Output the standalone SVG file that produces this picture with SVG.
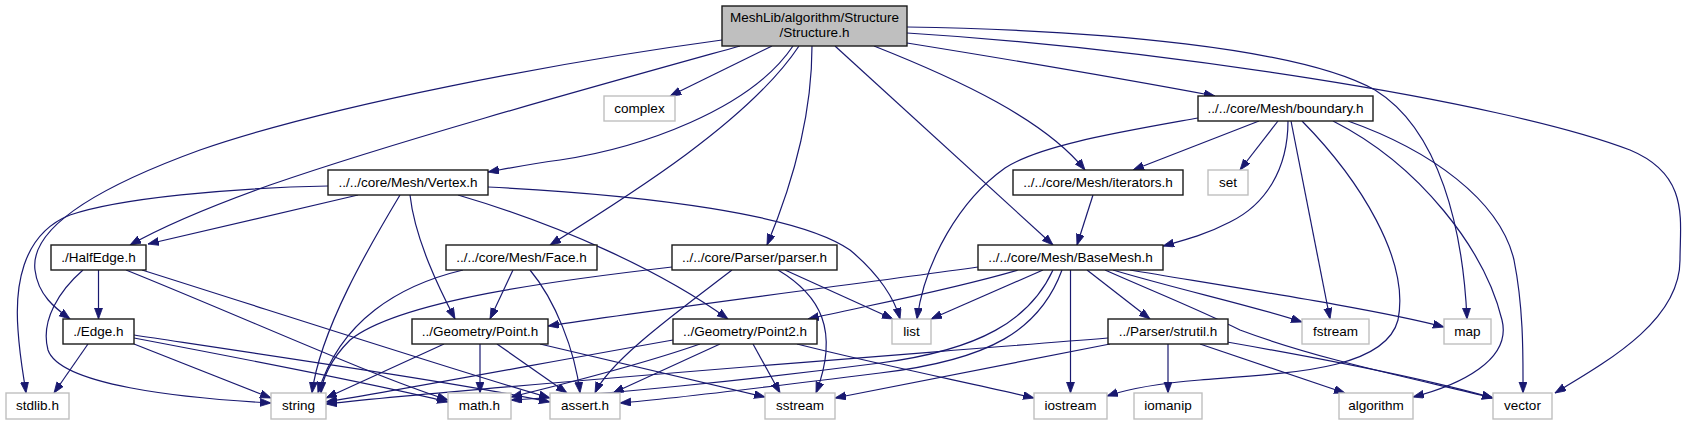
<svg xmlns="http://www.w3.org/2000/svg" width="1687" height="425" viewBox="0 0 1687 425">
<style>
.n rect{fill:#fff;stroke:#1a1a1a;stroke-width:1.4}
.x rect{fill:#fff;stroke:#bfbfbf;stroke-width:1.4}
.r rect{fill:#bfbfbf;stroke:#1a1a1a;stroke-width:1.4}
text{font-family:"Liberation Sans",Arial,sans-serif;font-size:13.5px;fill:#000;text-anchor:middle}
#edges path{fill:none;stroke:#191970;stroke-width:1.2;marker-end:url(#a)}
</style>
<defs>
<marker id="a" markerUnits="userSpaceOnUse" markerWidth="12" markerHeight="9" refX="11" refY="4" orient="auto">
<path d="M0,0 L11,4 L0,8 z" fill="#191970" stroke="#191970" stroke-width="0.8"/>
</marker>
</defs>
<rect width="1687" height="425" fill="#fff"/>
<g id="edges">
<path d="M722,40 C560,62 330,105 200,150 C90,190 30,230 35,270 C38,295 55,308 70,319"/>
<path d="M328,186 C230,188 120,198 70,215 C20,235 15,290 18,330 C20,360 24,378 26,393"/>
<path d="M740,46 C600,85 400,140 270,185 C200,210 160,228 130,245"/>
<path d="M358,195 L148,244"/>
<path d="M793,46 C750,110 640,148 560,160 C530,164 510,168 488,172"/>
<path d="M772,46 L670,96"/>
<path d="M799,46 C750,120 630,195 550,245"/>
<path d="M812,46 C812,120 790,190 767,245"/>
<path d="M835,46 L1053,245"/>
<path d="M874,46 C960,80 1045,120 1085,170"/>
<path d="M907,43 C1000,58 1140,82 1215,96"/>
<path d="M907,27 C1100,30 1300,48 1375,90 C1440,130 1463,230 1467,319"/>
<path d="M907,33 C1150,48 1500,100 1630,150 C1690,175 1680,220 1680,260 C1680,320 1610,360 1555,393"/>
<path d="M1259,121 L1133,170"/>
<path d="M1278,121 L1240,170"/>
<path d="M1198,118 C1120,132 1040,145 1005,168 C960,200 925,260 917,319"/>
<path d="M1288,121 C1288,170 1265,205 1230,222 C1205,235 1185,240 1163,246"/>
<path d="M1291,121 L1330,319"/>
<path d="M1302,121 C1360,180 1410,260 1398,320 C1385,370 1290,373 1200,380 C1150,384 1125,390 1107,396"/>
<path d="M1333,121 C1420,165 1485,250 1502,320 C1512,360 1460,385 1413,397"/>
<path d="M1348,121 C1430,150 1500,200 1514,260 C1524,310 1523,360 1523,393"/>
<path d="M1093,195 L1077,245"/>
<path d="M400,195 C370,245 320,330 312,393"/>
<path d="M410,195 C415,240 440,290 455,319"/>
<path d="M458,195 C560,225 660,270 728,319"/>
<path d="M488,187 C650,195 800,215 850,250 C880,275 895,300 900,319"/>
<path d="M98.5,270 L98.5,319"/>
<path d="M83,270 C60,290 40,320 48,350 C60,385 180,398 271,403"/>
<path d="M126,270 C250,320 370,375 448,400"/>
<path d="M142,270 C300,320 470,375 550,398"/>
<path d="M463,270 C400,285 340,320 318,393"/>
<path d="M513,270 L490,319"/>
<path d="M530,270 C555,300 575,350 580,393"/>
<path d="M672,267 C560,280 400,300 350,340 C330,360 322,380 321,393"/>
<path d="M732,270 C680,310 610,360 595,393"/>
<path d="M778,270 C820,295 840,330 816,393"/>
<path d="M785,270 L893,319"/>
<path d="M88,344 L54,393"/>
<path d="M134,344 L271,398"/>
<path d="M134,338 C250,360 380,385 448,402"/>
<path d="M134,335 C300,360 470,385 550,402"/>
<path d="M444,344 L326,398"/>
<path d="M480,344 L480,393"/>
<path d="M497,344 L567,393"/>
<path d="M540,344 L765,397"/>
<path d="M673,340 C560,360 400,390 326,402"/>
<path d="M700,344 C640,365 560,385 511,397"/>
<path d="M720,344 L613,393"/>
<path d="M753,344 L780,393"/>
<path d="M797,344 C880,365 980,385 1034,398"/>
<path d="M978,267 C850,285 650,310 548,326"/>
<path d="M1018,270 C950,290 870,305 808,319"/>
<path d="M1043,270 L931,319"/>
<path d="M1053,270 C1030,320 980,350 880,363 C750,380 600,395 511,400"/>
<path d="M1062,270 C1040,330 990,360 880,373 C760,388 680,398 620,403"/>
<path d="M1070.5,270 L1070.5,393"/>
<path d="M1087,270 L1150,319"/>
<path d="M1113,270 C1180,290 1250,305 1302,322"/>
<path d="M1130,270 C1250,290 1380,310 1444,327"/>
<path d="M1105,270 C1150,290 1200,310 1240,330 C1320,360 1420,380 1493,398"/>
<path d="M1108,338 C900,355 500,385 326,404"/>
<path d="M1110,344 L835,398"/>
<path d="M1168,344 L1168,393"/>
<path d="M1200,344 L1345,393"/>
<path d="M1227,342 C1330,360 1430,380 1493,398"/>
</g>
<g id="root" class="r"><rect x="722" y="6" width="185" height="40"/><text x="814.5" y="22">MeshLib/algorithm/Structure</text><text x="814.5" y="37">/Structure.h</text></g>
<g id="complex" class="x"><rect x="604" y="96" width="71" height="25"/><text x="639.5" y="113">complex</text></g>
<g id="boundary" class="n"><rect x="1198" y="96" width="175" height="25"/><text x="1285.5" y="113">../../core/Mesh/boundary.h</text></g>
<g id="vertex" class="n"><rect x="328" y="170" width="160" height="25"/><text x="408" y="187">../../core/Mesh/Vertex.h</text></g>
<g id="iterators" class="n"><rect x="1013" y="170" width="170" height="25"/><text x="1098" y="187">../../core/Mesh/iterators.h</text></g>
<g id="set" class="x"><rect x="1208" y="170" width="40" height="25"/><text x="1228" y="187">set</text></g>
<g id="halfedge" class="n"><rect x="51" y="245" width="95" height="25"/><text x="98.5" y="262">./HalfEdge.h</text></g>
<g id="face" class="n"><rect x="446" y="245" width="151" height="25"/><text x="521.5" y="262">../../core/Mesh/Face.h</text></g>
<g id="parser" class="n"><rect x="672" y="245" width="165" height="25"/><text x="754.5" y="262">../../core/Parser/parser.h</text></g>
<g id="basemesh" class="n"><rect x="978" y="245" width="185" height="25"/><text x="1070.5" y="262">../../core/Mesh/BaseMesh.h</text></g>
<g id="edge" class="n"><rect x="63" y="319" width="71" height="25"/><text x="98.5" y="336">./Edge.h</text></g>
<g id="point" class="n"><rect x="412" y="319" width="136" height="25"/><text x="480" y="336">../Geometry/Point.h</text></g>
<g id="point2" class="n"><rect x="673" y="319" width="144" height="25"/><text x="745" y="336">../Geometry/Point2.h</text></g>
<g id="list" class="x"><rect x="892" y="319" width="39" height="25"/><text x="911.5" y="336">list</text></g>
<g id="strutil" class="n"><rect x="1108" y="319" width="120" height="25"/><text x="1168" y="336">../Parser/strutil.h</text></g>
<g id="fstream" class="x"><rect x="1302" y="319" width="67" height="25"/><text x="1335.5" y="336">fstream</text></g>
<g id="map" class="x"><rect x="1444" y="319" width="47" height="25"/><text x="1467.5" y="336">map</text></g>
<g id="stdlib" class="x"><rect x="6" y="393" width="63" height="26"/><text x="37.5" y="410">stdlib.h</text></g>
<g id="string" class="x"><rect x="271" y="393" width="55" height="26"/><text x="298.5" y="410">string</text></g>
<g id="math" class="x"><rect x="448" y="393" width="63" height="26"/><text x="479.5" y="410">math.h</text></g>
<g id="assert" class="x"><rect x="550" y="393" width="70" height="26"/><text x="585" y="410">assert.h</text></g>
<g id="sstream" class="x"><rect x="765" y="393" width="70" height="26"/><text x="800" y="410">sstream</text></g>
<g id="iostream" class="x"><rect x="1034" y="393" width="73" height="26"/><text x="1070.5" y="410">iostream</text></g>
<g id="iomanip" class="x"><rect x="1134" y="393" width="68" height="26"/><text x="1168" y="410">iomanip</text></g>
<g id="algorithm" class="x"><rect x="1339" y="393" width="74" height="26"/><text x="1376" y="410">algorithm</text></g>
<g id="vector" class="x"><rect x="1493" y="393" width="59" height="26"/><text x="1522.5" y="410">vector</text></g>
</svg>
